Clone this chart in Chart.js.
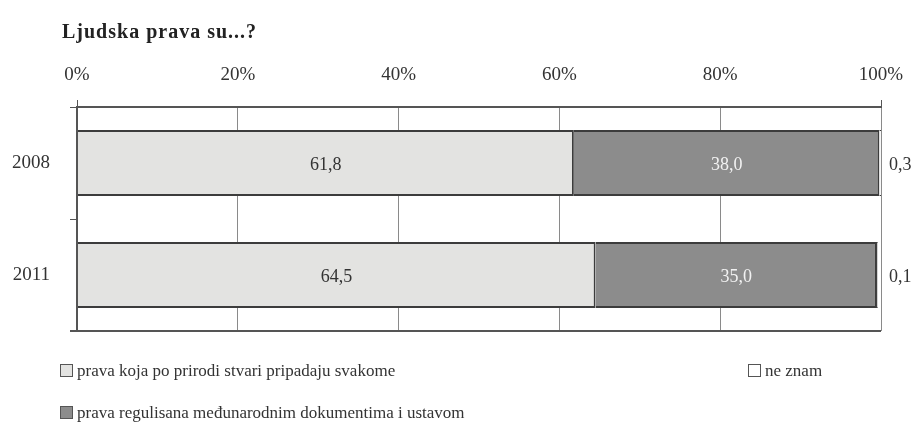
<!DOCTYPE html>
<html>
<head>
<meta charset="utf-8">
<script src="https://cdn.jsdelivr.net/npm/chart.js@4/dist/chart.umd.min.js"></script>
<style>
  html, body { margin:0; padding:0; background:#fff; }
  #wrap { position:relative; width:921px; height:424px; overflow:hidden; font-family:"Liberation Serif", serif; color:#333; }
  #c { position:absolute; left:0; top:0; }
  #title { position:absolute; left:62px; top:20px; font-weight:bold; font-size:20px; letter-spacing:1px; color:#222; }
  .leg { position:absolute; font-size:17px; color:#333; white-space:nowrap; }
  .box { display:inline-block; width:11px; height:11px; border:1.5px solid #555; margin-right:4px; vertical-align:-1px; }
</style>
</head>
<body>
<div id="wrap">
  <canvas id="c" width="921" height="424"></canvas>
  <div id="title">Ljudska prava su...?</div>
  <div class="leg" id="leg1" style="left:60px; top:361px;"><span class="box" style="background:#e3e3e1"></span>prava koja po prirodi stvari pripadaju svakome</div>
  <div class="leg" id="leg3" style="left:748px; top:361px;"><span class="box" style="background:#fff"></span>ne znam</div>
  <div class="leg" id="leg2" style="left:60px; top:403px;"><span class="box" style="background:#8c8c8c"></span>prava regulisana međunarodnim dokumentima i ustavom</div>
</div>
<script>
const categories = ["2008", "2011"];
const seriesNames = ["prava koja po prirodi stvari pripadaju svakome", "prava regulisana međunarodnim dokumentima i ustavom", "ne znam"];
const prirodi = [61.8, 64.5];
const regulisana = [38.0, 35.0];
const neZnam = [0.3, 0.1];
const tickValues = [0, 20, 40, 60, 80, 100];

const fmt = v => v.toFixed(1).replace('.', ',');

const labelPlugin = {
  id: 'labels',
  afterDatasetsDraw(chart) {
    const ctx = chart.ctx;
    ctx.save();
    ctx.font = '18px "Liberation Serif", serif';
    ctx.textBaseline = 'middle';
    ctx.textAlign = 'center';
    const m0 = chart.getDatasetMeta(0), m1 = chart.getDatasetMeta(1);
    m0.data.forEach((bar, i) => {
      ctx.fillStyle = '#333';
      ctx.fillText(fmt(prirodi[i]), (bar.base + bar.x) / 2, bar.y + 2);
    });
    m1.data.forEach((bar, i) => {
      ctx.fillStyle = '#f2f2f2';
      ctx.fillText(fmt(regulisana[i]), (bar.base + bar.x) / 2, bar.y + 2);
    });
    ctx.textAlign = 'left';
    ctx.fillStyle = '#333';
    m0.data.forEach((bar, i) => {
      ctx.fillText(fmt(neZnam[i]), chart.chartArea.right + 8, bar.y + 2);
    });
    const a = chart.chartArea;
    ctx.strokeStyle = '#555';
    ctx.lineWidth = 2;
    ctx.beginPath();
    ctx.moveTo(a.left, a.top); ctx.lineTo(a.left, a.bottom + 1);
    ctx.moveTo(a.left - 7, a.bottom); ctx.lineTo(a.right, a.bottom);
    ctx.stroke();
    ctx.restore();
  }
};

new Chart(document.getElementById('c'), {
  type: 'bar',
  data: {
    labels: categories,
    datasets: [
      { label: seriesNames[0], data: prirodi, backgroundColor: '#e3e3e1', borderColor: '#3c3c3c', borderWidth: 2 },
      { label: seriesNames[1], data: regulisana, backgroundColor: '#8c8c8c', borderColor: '#3c3c3c', borderWidth: 2 },
      { label: seriesNames[2], data: neZnam, backgroundColor: '#ffffff', borderColor: '#3c3c3c', borderWidth: 1 }
    ]
  },
  options: {
    indexAxis: 'y',
    responsive: false,
    animation: false,
    devicePixelRatio: 1,
    layout: { padding: { left: 0, right: 40, top: 0, bottom: 93 } },
    datasets: { bar: { barPercentage: 0.59, categoryPercentage: 1.0 } },
    plugins: { legend: { display: false }, tooltip: { enabled: false }, title: { display: false } },
    scales: {
      x: {
        position: 'top',
        stacked: true,
        min: 0, max: 100,
        afterBuildTicks(scale) { scale.ticks = tickValues.map(v => ({ value: v })); },
        afterFit(scale) { scale.height = 107; },
        ticks: {
          callback: v => v + '%',
          color: '#333',
          font: { family: '"Liberation Serif", serif', size: 19 },
          padding: 14,
          maxRotation: 0
        },
        grid: {
          color: ctx => ctx.index === 0 ? 'rgba(0,0,0,0)' : '#8a8a8a',
          lineWidth: 1,
          tickLength: 7,
          tickColor: ctx => (ctx.index === 0 || ctx.index === 5) ? '#555' : 'rgba(0,0,0,0)'
        },
        border: { display: true, color: '#555', width: 2 }
      },
      y: {
        stacked: true,
        afterFit(scale) { scale.width = 77; },
        ticks: {
          color: '#333',
          font: { family: '"Liberation Serif", serif', size: 19 },
          padding: 20
        },
        grid: { drawOnChartArea: false, drawTicks: true, tickLength: 7, color: '#555', offset: true },
        border: { display: false }
      }
    }
  },
  plugins: [labelPlugin]
});
</script>
</body>
</html>
